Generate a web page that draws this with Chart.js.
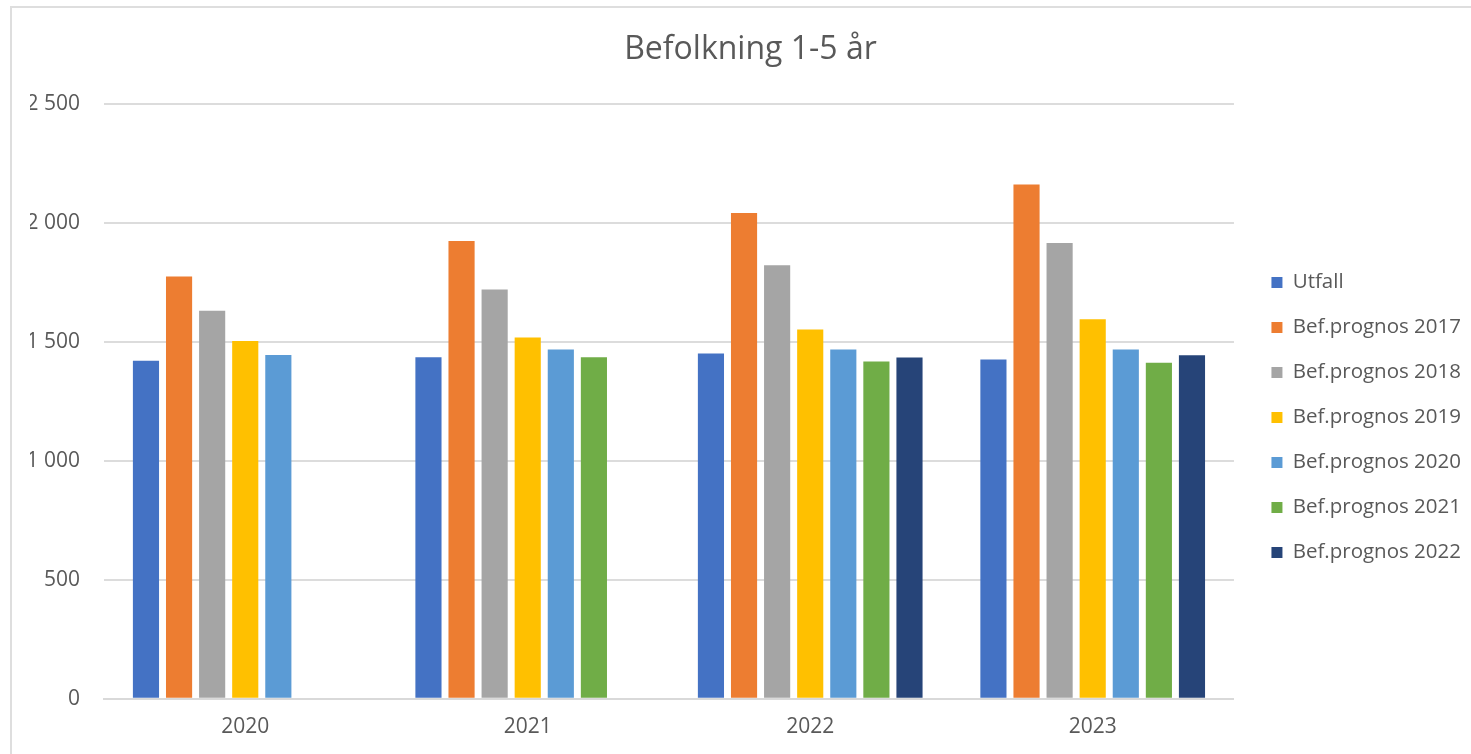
<!DOCTYPE html>
<html lang="sv">
<head>
  <meta charset="UTF-8">
  <title>Befolkning 1-5 år</title>
  <script src="https://cdn.jsdelivr.net/npm/chart.js"></script>
  <style>
    html,body{margin:0;padding:0;background:#fff;width:1471px;height:754px;overflow:hidden}
    #frame{
      position:absolute;left:10px;top:6px;right:0;bottom:0;
      border-top:2px solid #dedede;border-left:2px solid #dedede;
    }
    #wrap{position:absolute;left:0;top:0;width:1459px;height:746px}
  </style>
</head>
<body>
<div id="frame">
  <div id="wrap"><canvas id="chart"></canvas></div>
</div>
<script>
// ===== Data =====
const years = ['2020', '2021', '2022', '2023'];
const utfall      = [1422, 1437, 1452, 1427];
const prognos2017 = [1776, 1925, 2043, 2163];
const prognos2018 = [1632, 1722, 1824, 1917];
const prognos2019 = [1505, 1520, 1553, 1596];
const prognos2020 = [1446, 1469, 1469, 1469];
const prognos2021 = [null, 1437, 1419, 1413];
const prognos2022 = [null, null, 1436, 1445];
const yTicks = [0, 500, 1000, 1500, 2000, 2500];

const grey = '#595959';
const font = 'Open Sans';

// "2500" -> "2 500"
function spaced(v){
  return String(v).replace(/\B(?=(\d{3})+(?!\d))/g, ' ');
}

const series = [
  ['Utfall', utfall, '#4472C4'],
  ['Bef.prognos 2017', prognos2017, '#ED7D31'],
  ['Bef.prognos 2018', prognos2018, '#A5A5A5'],
  ['Bef.prognos 2019', prognos2019, '#FFC000'],
  ['Bef.prognos 2020', prognos2020, '#5B9BD5'],
  ['Bef.prognos 2021', prognos2021, '#70AD47'],
  ['Bef.prognos 2022', prognos2022, '#264478']
];

new Chart(document.getElementById('chart'), {
  type: 'bar',
  data: {
    labels: years,
    datasets: series.map(([label, data, color]) => ({
      label, data,
      backgroundColor: color,
      borderWidth: 0,
      categoryPercentage: 0.82,
      barPercentage: 0.79
    }))
  },
  options: {
    responsive: true,
    maintainAspectRatio: false,
    animation: false,
    layout: {padding: {left: 18, right: 0, top: 0, bottom: -2}},
    plugins: {
      title: {
        display: true,
        text: 'Befolkning 1-5 år',
        color: grey,
        font: {family: font, size: 32, weight: 'normal'},
        padding: {top: 23, bottom: 35}
      },
      legend: {
        position: 'right',
        fullSize: false,
        title: {display: true, text: '', font: {size: 20}, padding: 4},
        labels: {
          color: grey,
          font: {family: font, size: 20.5},
          boxWidth: 11,
          boxHeight: 11,
          padding: 24.5
        }
      },
      tooltip: {enabled: false}
    },
    scales: {
      x: {
        grid: {display: false, drawTicks: false},
        border: {display: true, color: '#d9d9d9', width: 2},
        ticks: {color: grey, font: {family: font, size: 21}, padding: 16}
      },
      y: {
        min: 0,
        max: 2500,
        afterBuildTicks: axis => { axis.ticks = yTicks.map(v => ({value: v})); },
        afterFit: s => { s.width = 74; },
        grid: {color: '#dcdcdc', lineWidth: 2, drawTicks: false},
        border: {display: false},
        ticks: {
          color: grey,
          font: {family: font, size: 21},
          padding: 24,
          callback: v => spaced(v)
        }
      },
      // empty spacer between plot area and legend
      gap: {
        position: 'right',
        grid: {display: false, drawTicks: false},
        border: {display: false},
        ticks: {display: false},
        afterFit: s => { s.width = 13; }
      }
    }
  }
});
</script>
</body>
</html>
